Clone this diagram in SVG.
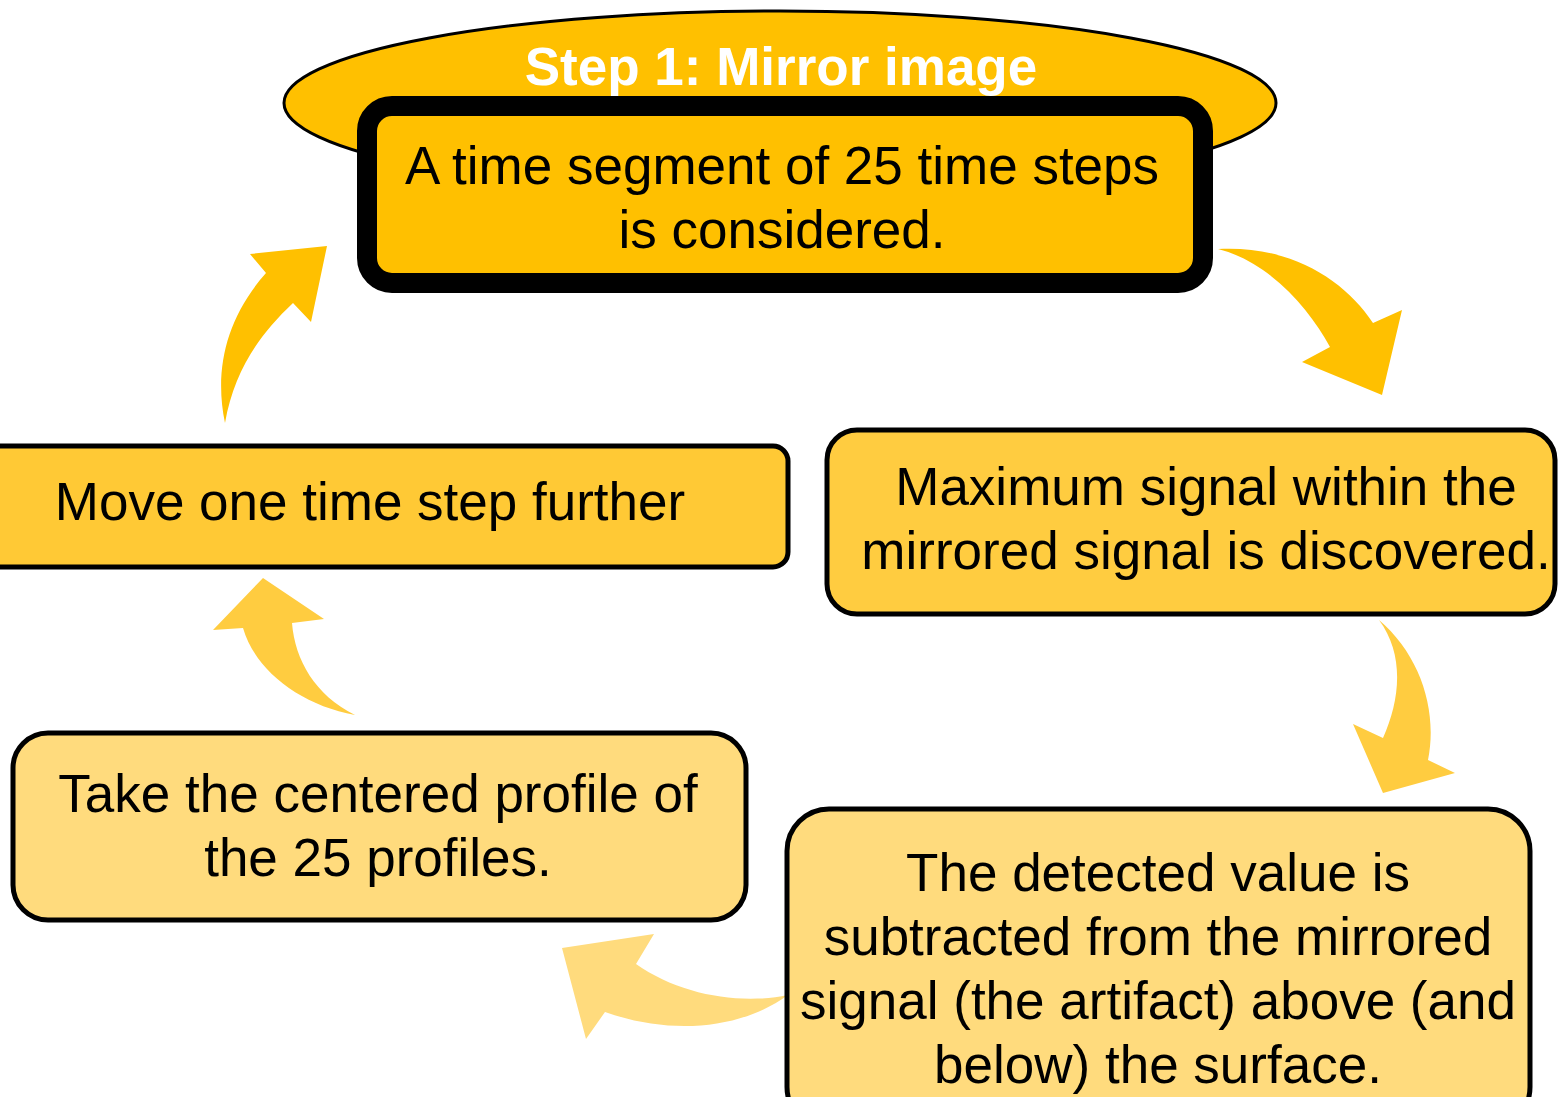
<svg xmlns="http://www.w3.org/2000/svg" width="1558" height="1097" viewBox="0 0 1558 1097">
<style>
  .box { stroke: #000; stroke-width: 5; }
  .txt { font-family: "Liberation Sans", Arial, sans-serif; font-size: 53px; fill: #000; text-anchor: middle; }
  .title { font-family: "Liberation Sans", Arial, sans-serif; font-size: 53px; font-weight: bold; fill: #fff; text-anchor: middle; }
</style>
<rect width="1558" height="1097" fill="#fff"/>
<g id="connectors">
  <path fill="#FFC000" d="M 225,423 C 214,370 226,318 266,273 L 250,254 L 327,246 L 311,322 L 293,303 C 258,336 234,372 225,423 Z"/>
  <path fill="#FFC000" d="M 1218,249 C 1290,245 1345,280 1373,323 L 1402,310 L 1382,395 L 1302,362 L 1330,347 C 1310,310 1270,262 1218,249 Z"/>
  <path fill="#FFCC40" d="M 1379,620 C 1420,655 1438,710 1428,760 L 1455,773 L 1383,793 L 1353,724 L 1383,738 C 1400,700 1405,655 1379,620 Z"/>
  <path fill="#FFDB7D" d="M 788,995 C 740,1030 670,1035 605,1012 L 586,1039 L 562,948 L 654,934 L 636,964 C 680,995 740,1005 788,995 Z"/>
  <path fill="#FFCC40" d="M 355,715 C 300,705 255,670 243,628 L 213,630 L 263,578 L 324,619 L 292,623 C 295,660 315,695 355,715 Z"/>
</g>
<g id="step1">
  <ellipse cx="780" cy="103" rx="496" ry="92" fill="#FFC000" stroke="#000" stroke-width="3"/>
  <text class="title" x="781" y="85">Step 1: Mirror image</text>
  <rect x="367" y="106" width="836" height="177" rx="25" fill="#FFC000" stroke="#000" stroke-width="20"/>
  <text class="txt" x="782" y="184">A time segment of 25 time steps</text>
  <text class="txt" x="782" y="248">is considered.</text>
</g>
<g id="maximum">
  <rect class="box" x="827" y="430" width="728" height="184" rx="30" fill="#FFCC40"/>
  <text class="txt" x="1206" y="505">Maximum signal within the</text>
  <text class="txt" x="1206" y="569">mirrored signal is discovered.</text>
</g>
<g id="subtract">
  <rect class="box" x="787" y="809" width="743" height="320" rx="42" fill="#FFDB7D"/>
  <text class="txt" x="1158" y="891">The detected value is</text>
  <text class="txt" x="1158" y="955">subtracted from the mirrored</text>
  <text class="txt" x="1158" y="1019">signal (the artifact) above (and</text>
  <text class="txt" x="1158" y="1083">below) the surface.</text>
</g>
<g id="take">
  <rect class="box" x="13" y="733" width="733" height="187" rx="35" fill="#FFDB7D"/>
  <text class="txt" x="378" y="812">Take the centered profile of</text>
  <text class="txt" x="378" y="876">the 25 profiles.</text>
</g>
<g id="move">
  <rect class="box" x="-20" y="446" width="808" height="121" rx="15" fill="#FFC935"/>
  <text class="txt" x="370" y="520">Move one time step further</text>
</g>
</svg>
